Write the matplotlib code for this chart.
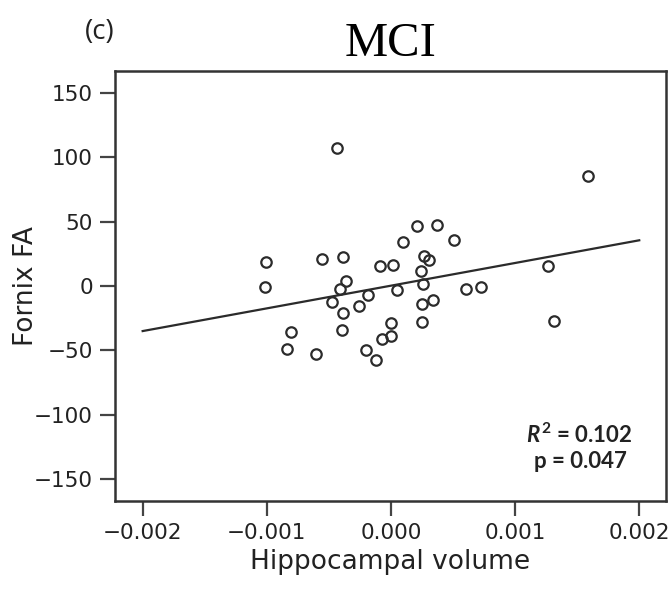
import matplotlib
matplotlib.use("Agg")
import matplotlib.pyplot as plt

# Data

hippocampal_volume = [
    -0.000433, -0.001009, -0.001015, -0.000553, -0.000384, -0.000365,
    -0.000411, -0.000478, -0.000384, -0.000392, -0.000808, -0.000835,
    -0.000604, -0.000255, -0.000183, -0.000089, 0.000019, 0.000099,
    0.000207, 0.000368, 0.000507, 0.000266, 0.000306, 0.000239,
    0.000260, 0.000051, 0.000252, 0.000341, 0.000247, 0.000002,
    -0.000002, -0.000070, -0.000201, -0.000121, 0.000604, 0.000723,
    0.001584, 0.001267, 0.001313
]

fornix_fa = [
    106.8, 18.6, -0.8, 21.3, 22.5, 3.9,
    -2.6, -12.4, -21.0, -34.4, -35.7, -48.6,
    -52.5, -15.8, -6.7, 15.3, 16.6, 34.2,
    46.6, 47.7, 35.5, 23.3, 20.0, 11.7,
    1.9, -2.8, -13.7, -11.1, -28.0, -28.7,
    -38.9, -41.4, -49.9, -57.7, -2.6, -0.8,
    85.2, 15.3, -27.4
]

fit_x = [-0.002, 0.002]
fit_y = [-35.0, 35.5]

x_ticks = [-0.002, -0.001, 0.000, 0.001, 0.002]
x_tick_labels = ["\u22120.002", "\u22120.001", "0.000", "0.001", "0.002"]
y_ticks = [-150, -100, -50, 0, 50, 100, 150]
y_tick_labels = ["\u2212150", "\u2212100", "\u221250", "0", "50", "100", "150"]

r_squared = "0.102"
p_value = "0.047"

# Style

plt.rcParams["mathtext.fontset"] = "custom"
plt.rcParams["mathtext.rm"] = "Lato:bold"
plt.rcParams["mathtext.it"] = "Lato:italic:bold"
plt.rcParams["mathtext.bf"] = "Lato:bold"

INK = "#2b2b2b"

# Plot

fig = plt.figure(figsize=(6.72, 5.90), dpi=100)
ax = fig.add_axes([0.1711, 0.1508, 0.8195, 0.7289])

ax.plot(
    hippocampal_volume,
    fornix_fa,
    linestyle="none",
    marker="o",
    markersize=7.5,
    markerfacecolor="none",
    markeredgecolor=INK,
    markeredgewidth=1.6
)

ax.plot(fit_x, fit_y, color=INK, linewidth=1.6)

ax.set_xlim(-0.002223, 0.002213)
ax.set_ylim(-167, 167)

ax.set_xticks(x_ticks)
ax.set_xticklabels(x_tick_labels)
ax.set_yticks(y_ticks)
ax.set_yticklabels(y_tick_labels)

ax.tick_params(
    direction="out",
    length=11,
    width=1.6,
    color="#444444",
    labelsize=15.5,
    labelcolor="#222222",
    pad=5
)

for spine in ax.spines.values():
    spine.set_linewidth(1.8)
    spine.set_color("#333333")

ax.set_xlabel("Hippocampal volume", fontsize=19, color="#222222", labelpad=4)
ax.set_ylabel("Fornix FA", fontsize=19, color="#222222")
ax.yaxis.set_label_coords(-0.138, 0.5)

ax.set_title("MCI", family="Liberation Serif", fontsize=35, pad=11)

fig.text(0.127, 0.945, "(c)", family="Open Sans", fontsize=20,
         color="#222222", ha="left", va="center")

ax.text(0.843, 0.153, r"$R^{2}$ = " + r_squared, transform=ax.transAxes,
        family="Lato", fontweight="bold", fontsize=16, color="#222222",
        ha="center", va="center")
ax.text(0.846, 0.091, "p = " + p_value, transform=ax.transAxes,
        family="Lato", fontweight="bold", fontsize=16, color="#222222",
        ha="center", va="center")

fig.savefig("out.png", dpi=100)
plt.close(fig)
